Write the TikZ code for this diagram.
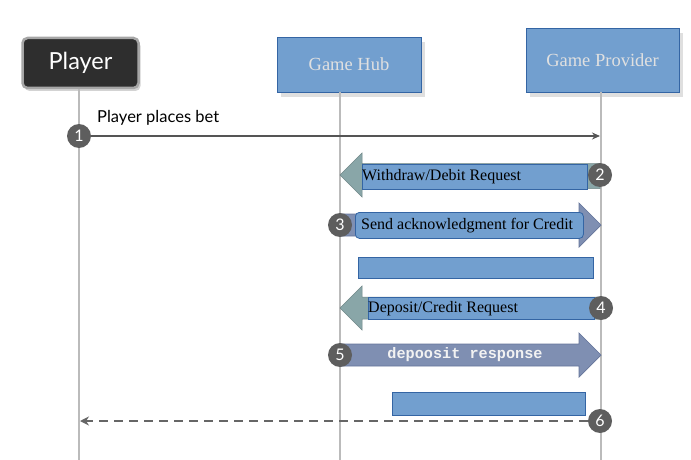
\documentclass[tikz,border=0pt]{standalone}
\usepackage{fontspec}
\setmainfont{Liberation Serif}
\newfontfamily\uisans{Lato}
\newfontfamily\uimono{Liberation Mono}
\usetikzlibrary{shadows,arrows.meta}
\definecolor{boxblue}{HTML}{729FCF}
\definecolor{boxedge}{HTML}{3465A4}
\definecolor{tealarrow}{HTML}{89A6A8}
\definecolor{slatearrow}{HTML}{7F8FB2}
\definecolor{slateedge}{HTML}{65759A}
\definecolor{lifegray}{HTML}{BBBBBB}
\definecolor{numgray}{HTML}{5E5E5E}
\definecolor{msggray}{HTML}{555555}
\tikzset{
  actorbox/.style={draw=boxedge, line width=0.8pt, fill=boxblue, inner sep=0pt,
     text=black!12, font=\fontsize{18.5}{22}\selectfont,
     drop shadow={opacity=0.25, shadow xshift=4pt, shadow yshift=-5pt}},
  playerbox/.style={draw=gray!70, line width=2.5pt, fill=black!82, rounded corners=5pt,
     text=white, font=\uisans\fontsize{23.5}{26}\selectfont, inner sep=0pt,
     drop shadow={opacity=0.35, shadow xshift=2pt, shadow yshift=-3pt}},
  lifeline/.style={draw=lifegray, line width=1.5pt},
  stepnum/.style={circle, fill=numgray, text=white, minimum size=24pt, inner sep=0pt,
     font=\uisans\fontsize{16}{18}\selectfont},
  msgline/.style={draw=msggray, line width=1.8pt, -{Stealth[length=8pt,width=7pt]}},
  labelbar/.style={draw=boxedge, line width=0.8pt, fill=boxblue, inner sep=0pt, anchor=north west},
  bartext/.style={font=\fontsize{16}{18}\selectfont, text=black, anchor=west, inner sep=0pt},
  leftarrow/.style={fill=tealarrow, draw=tealarrow!80!black, line width=0.5pt},
  rightarrow/.style={fill=slatearrow, draw=slateedge, line width=0.7pt},
}
\begin{document}
\begin{tikzpicture}[x=1pt,y=-1pt]
\useasboundingbox (0,0) rectangle (691,460);
% actors
\node[playerbox, minimum width=116pt, minimum height=50pt] (player) at (80.5,63) {Player};
\node[actorbox, minimum width=144pt, minimum height=55pt] (hub) at (349,64.5) {Game Hub};
\node[actorbox, minimum width=153pt, minimum height=64pt] (prov) at (602.5,60) {Game Provider};
% lifelines
\coordinate (pl) at (79,460);
\coordinate (hl) at (340,460);
\coordinate (vl) at (601,460);
\draw[lifeline] (79,89) -- (pl);
\draw[lifeline] (340,92.5) -- (hl);
\draw[lifeline] (601,92.5) -- (vl);
% step 1
\node[stepnum] (c1) at (79,136) {1};
\coordinate (e1) at (600,136);
\draw[msgline] (c1) -- (e1);
\node[anchor=west, inner sep=0pt, font=\uisans\fontsize{16.5}{18}\selectfont] (t1) at (97,118) {Player places bet};
% step 2 (left block arrow)
\draw[leftarrow] (340,175) -- (362,153) -- (362,163.5) -- (600,163.5) -- (600,188.5) -- (362,188.5) -- (362,197) -- cycle;
\node[labelbar, minimum width=225pt, minimum height=25pt] (b2) at (362,163.5) {};
\node[bartext] (t2) at (362,177) {Withdraw/Debit Request};
\node[stepnum] (c2) at (600,175) {2};
% step 3 (right block arrow)
\draw[rightarrow] (340,214) -- (579,214) -- (579,203) -- (601,225) -- (579,247) -- (579,236) -- (340,236) -- cycle;
\node[labelbar, rounded corners=4pt, minimum width=228pt, minimum height=26pt] (b3) at (355,212) {};
\node[bartext] (t3) at (361,226) {Send acknowledgment for Credit};
\node[stepnum] (c3) at (340,225) {3};
% empty bar
\node[labelbar, minimum width=235pt, minimum height=21pt] (b0) at (358,257) {};
% step 4 (left block arrow)
\draw[leftarrow] (340,308) -- (362,286) -- (362,297) -- (600,297) -- (600,319) -- (362,319) -- (362,330) -- cycle;
\node[labelbar, minimum width=226pt, minimum height=22pt] (b4) at (368,297) {};
\node[bartext] (t4) at (368,308.5) {Deposit/Credit Request};
\node[stepnum] (c4) at (601,308) {4};
% step 5 (right block arrow)
\draw[rightarrow] (340,344) -- (579,344) -- (579,333) -- (601,355) -- (579,377) -- (579,366) -- (340,366) -- cycle;
\node[font=\uimono\bfseries\fontsize{15.2}{17}\selectfont, text=black!5, inner sep=0pt] (t5) at (465,355) {depoosit response};
\node[stepnum] (c5) at (340,355) {5};
% step 6
\node[labelbar, minimum width=193pt, minimum height=23pt] (b6) at (392,392) {};
\node[stepnum] (c6) at (600,421) {6};
\coordinate (e6) at (80,421);
\draw[draw=msggray!90, line width=2.5pt, dash pattern=on 9pt off 6pt, -{Stealth[length=9pt,width=9pt]}] (c6) -- (e6);
\end{tikzpicture}
\end{document}
